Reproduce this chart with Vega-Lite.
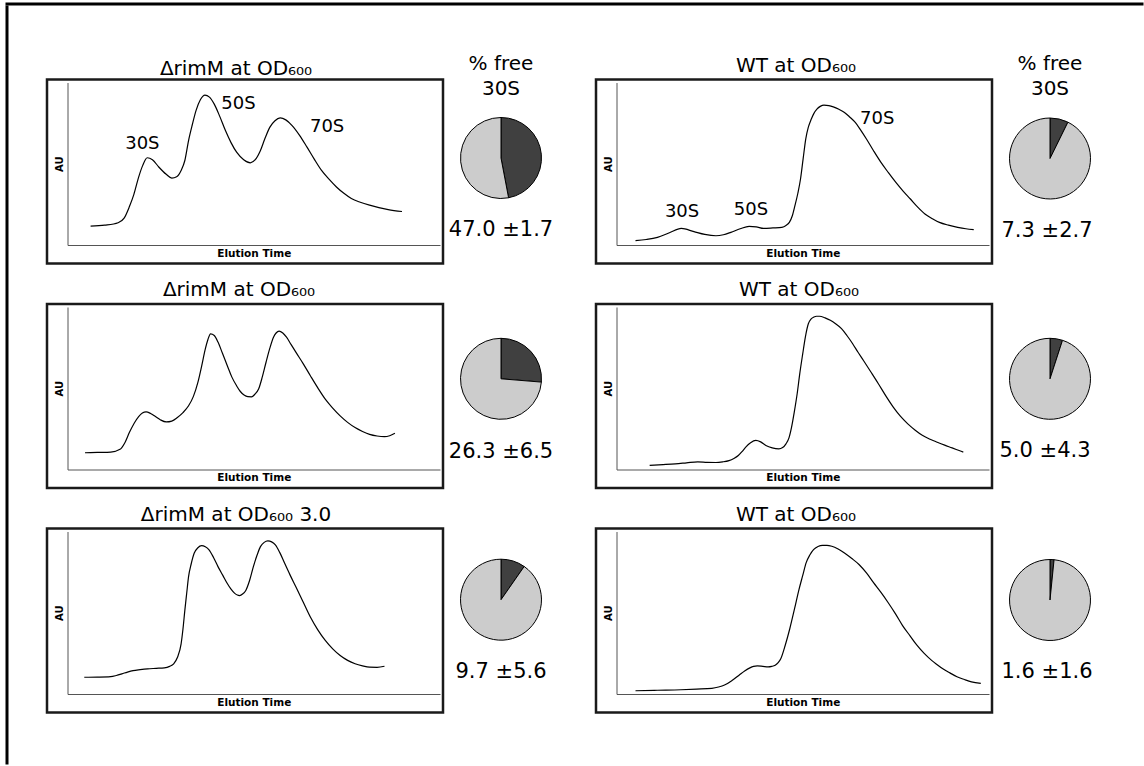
{
  "$schema": "https://vega.github.io/schema/vega-lite/v6.json",
  "background": "white",
  "padding": {"left": 5.5, "top": 2.5, "right": 0, "bottom": 0},
  "autosize": {"type": "pad"},
  "config": {
    "view": {"stroke": null},
    "font": "DejaVu Sans",
    "title": {"font": "DejaVu Sans", "fontSize": 20, "fontWeight": "normal", "color": "black", "anchor": "middle", "frame": "group"},
    "axis": {"ticks": false, "labels": false, "grid": false, "domainColor": "#555", "domainWidth": 1, "titleFont": "DejaVu Sans", "titleFontWeight": "bold", "titleColor": "black"},
    "axisX": {"offset": -18.5, "titlePadding": 3, "titleFontSize": 10.5},
    "axisY": {"offset": -20.5, "titlePadding": 3, "titleFontSize": 10},
    "text": {"font": "DejaVu Sans", "fontSize": 18, "color": "black", "align": "center", "baseline": "middle"},
    "line": {"color": "black", "strokeWidth": 1.2, "interpolate": "monotone"},
    "arc": {"outerRadius": 40.5, "stroke": "black", "strokeWidth": 1}
  },
  "datasets": {
    "traces": [
      {"p":"A","t":6.2,"au":11.6},{"p":"A","t":10,"au":12.2},{"p":"A","t":13.6,"au":13.7},{"p":"A","t":15.2,"au":16.5},{"p":"A","t":16.6,"au":23.5},{"p":"A","t":17.8,"au":31},{"p":"A","t":19.1,"au":41.8},{"p":"A","t":20.2,"au":49},{"p":"A","t":21.4,"au":53.7},{"p":"A","t":22.8,"au":52.5},{"p":"A","t":24.5,"au":48},{"p":"A","t":26.5,"au":43.5},{"p":"A","t":28,"au":41.2},{"p":"A","t":29.3,"au":42},{"p":"A","t":30.5,"au":45.9},{"p":"A","t":31.5,"au":52},{"p":"A","t":32.5,"au":64.3},{"p":"A","t":33.5,"au":74},{"p":"A","t":34.5,"au":82.7},{"p":"A","t":35.7,"au":89.5},{"p":"A","t":36.9,"au":92.2},{"p":"A","t":38.1,"au":91},{"p":"A","t":39.4,"au":86.7},{"p":"A","t":40.9,"au":79},{"p":"A","t":42.4,"au":70.4},{"p":"A","t":43.9,"au":63},{"p":"A","t":45.4,"au":57.1},{"p":"A","t":47.3,"au":52.5},{"p":"A","t":49.1,"au":50.6},{"p":"A","t":50.4,"au":52.5},{"p":"A","t":51.8,"au":58.2},{"p":"A","t":53,"au":65.5},{"p":"A","t":54.3,"au":72.4},{"p":"A","t":55.7,"au":76.5},{"p":"A","t":57.1,"au":78.2},{"p":"A","t":58.6,"au":77},{"p":"A","t":60.3,"au":73.5},{"p":"A","t":62.3,"au":67.5},{"p":"A","t":64.3,"au":60.2},{"p":"A","t":66.2,"au":53},{"p":"A","t":68.2,"au":45.9},{"p":"A","t":70.2,"au":40.5},{"p":"A","t":72.2,"au":35.7},{"p":"A","t":74.2,"au":31.8},{"p":"A","t":76.2,"au":28.6},{"p":"A","t":78.6,"au":26.3},{"p":"A","t":81.1,"au":24.5},{"p":"A","t":83.6,"au":23},{"p":"A","t":86.1,"au":21.8},{"p":"A","t":89.8,"au":20.6},
      {"p":"B","t":5.1,"au":2.7},{"p":"B","t":8,"au":3.4},{"p":"B","t":11,"au":4.7},{"p":"B","t":14.2,"au":7.5},{"p":"B","t":17.4,"au":10.2},{"p":"B","t":20.8,"au":8.2},{"p":"B","t":23.7,"au":6.5},{"p":"B","t":26.7,"au":5.7},{"p":"B","t":28.7,"au":6.3},{"p":"B","t":30.7,"au":7.8},{"p":"B","t":33.2,"au":10},{"p":"B","t":35.6,"au":11.5},{"p":"B","t":37.5,"au":11.2},{"p":"B","t":39.5,"au":10.2},{"p":"B","t":42,"au":10.5},{"p":"B","t":44.4,"au":10.9},{"p":"B","t":45.5,"au":12},{"p":"B","t":46.4,"au":13.9},{"p":"B","t":47.2,"au":18},{"p":"B","t":47.9,"au":24.2},{"p":"B","t":48.7,"au":32},{"p":"B","t":49.4,"au":40.6},{"p":"B","t":50.1,"au":53},{"p":"B","t":50.8,"au":65.2},{"p":"B","t":51.5,"au":72.5},{"p":"B","t":52.3,"au":77.5},{"p":"B","t":53,"au":81},{"p":"B","t":53.8,"au":83.6},{"p":"B","t":54.7,"au":85.3},{"p":"B","t":55.7,"au":86.1},{"p":"B","t":57,"au":85.8},{"p":"B","t":58.2,"au":85},{"p":"B","t":59.7,"au":83.5},{"p":"B","t":61.2,"au":81.6},{"p":"B","t":62.6,"au":78.8},{"p":"B","t":64.1,"au":75.4},{"p":"B","t":65.6,"au":70.5},{"p":"B","t":67.1,"au":65.2},{"p":"B","t":69,"au":58},{"p":"B","t":71,"au":50.8},{"p":"B","t":73,"au":44.5},{"p":"B","t":75,"au":38.5},{"p":"B","t":77,"au":33},{"p":"B","t":78.9,"au":28.3},{"p":"B","t":80.8,"au":23.5},{"p":"B","t":82.8,"au":19.1},{"p":"B","t":84.8,"au":16.2},{"p":"B","t":86.7,"au":13.9},{"p":"B","t":89.1,"au":12.2},{"p":"B","t":91.6,"au":10.9},{"p":"B","t":93.8,"au":10},{"p":"B","t":95.9,"au":9.4},
      {"p":"C","t":4.7,"au":10.3},{"p":"C","t":8,"au":10.5},{"p":"C","t":11.6,"au":10.7},{"p":"C","t":14.1,"au":12.4},{"p":"C","t":15.4,"au":16.5},{"p":"C","t":16.6,"au":22.7},{"p":"C","t":17.9,"au":28.5},{"p":"C","t":19.1,"au":32.6},{"p":"C","t":20.1,"au":34.8},{"p":"C","t":21.1,"au":35.5},{"p":"C","t":22.3,"au":34.5},{"p":"C","t":23.6,"au":32.6},{"p":"C","t":25,"au":30.5},{"p":"C","t":26.5,"au":29.3},{"p":"C","t":28,"au":29.8},{"p":"C","t":29.5,"au":32},{"p":"C","t":31,"au":35},{"p":"C","t":32.5,"au":39.2},{"p":"C","t":33.8,"au":45},{"p":"C","t":35,"au":53.6},{"p":"C","t":36,"au":63.5},{"p":"C","t":37,"au":74.2},{"p":"C","t":37.7,"au":80},{"p":"C","t":38.4,"au":83.5},{"p":"C","t":39.4,"au":82.5},{"p":"C","t":40.4,"au":78.4},{"p":"C","t":41.6,"au":71.5},{"p":"C","t":42.9,"au":63.9},{"p":"C","t":44.1,"au":57},{"p":"C","t":45.4,"au":51.5},{"p":"C","t":46.4,"au":48},{"p":"C","t":47.4,"au":45.8},{"p":"C","t":48.4,"au":44.8},{"p":"C","t":49.4,"au":44.7},{"p":"C","t":50.3,"au":46.3},{"p":"C","t":51.3,"au":49.5},{"p":"C","t":52.3,"au":57},{"p":"C","t":53.3,"au":66},{"p":"C","t":54.3,"au":74.5},{"p":"C","t":55.3,"au":81.4},{"p":"C","t":56,"au":84},{"p":"C","t":56.8,"au":85.2},{"p":"C","t":57.8,"au":84},{"p":"C","t":58.8,"au":81.4},{"p":"C","t":60,"au":77},{"p":"C","t":61.3,"au":72.2},{"p":"C","t":63.3,"au":65},{"p":"C","t":65.2,"au":57.7},{"p":"C","t":67.2,"au":50.2},{"p":"C","t":69.2,"au":43.3},{"p":"C","t":71.2,"au":37.8},{"p":"C","t":73.2,"au":33},{"p":"C","t":75.2,"au":29},{"p":"C","t":77.2,"au":25.8},{"p":"C","t":79.2,"au":23.4},{"p":"C","t":81.1,"au":21.6},{"p":"C","t":83.1,"au":20.6},{"p":"C","t":85.1,"au":20.2},{"p":"C","t":86.5,"au":20.8},{"p":"C","t":87.9,"au":22.3},
      {"p":"D","t":8.9,"au":2.5},{"p":"D","t":12.5,"au":3},{"p":"D","t":15.8,"au":3.5},{"p":"D","t":18.8,"au":4.1},{"p":"D","t":21.8,"au":4.7},{"p":"D","t":24.3,"au":4.4},{"p":"D","t":26.7,"au":4.3},{"p":"D","t":28.5,"au":4.7},{"p":"D","t":30.2,"au":5.5},{"p":"D","t":31.5,"au":6.8},{"p":"D","t":32.7,"au":8.6},{"p":"D","t":33.7,"au":11},{"p":"D","t":34.7,"au":13.8},{"p":"D","t":36,"au":16.5},{"p":"D","t":37.4,"au":17.9},{"p":"D","t":38.7,"au":17},{"p":"D","t":40.1,"au":14.8},{"p":"D","t":41.8,"au":13.3},{"p":"D","t":43.6,"au":12.7},{"p":"D","t":44.6,"au":13.5},{"p":"D","t":45.5,"au":15.8},{"p":"D","t":46.3,"au":19.5},{"p":"D","t":47,"au":26.1},{"p":"D","t":47.7,"au":35},{"p":"D","t":48.5,"au":46.6},{"p":"D","t":49.2,"au":59},{"p":"D","t":50,"au":71.3},{"p":"D","t":50.7,"au":81.5},{"p":"D","t":51.5,"au":89.7},{"p":"D","t":52.2,"au":92.5},{"p":"D","t":53,"au":93.8},{"p":"D","t":53.7,"au":94.3},{"p":"D","t":54.5,"au":94.3},{"p":"D","t":56,"au":93.3},{"p":"D","t":57.4,"au":91.8},{"p":"D","t":58.9,"au":89.5},{"p":"D","t":60.4,"au":86.7},{"p":"D","t":61.9,"au":82.3},{"p":"D","t":63.4,"au":77.4},{"p":"D","t":64.8,"au":72.3},{"p":"D","t":66.3,"au":67.1},{"p":"D","t":68.3,"au":60},{"p":"D","t":70.3,"au":52.8},{"p":"D","t":72.3,"au":45.3},{"p":"D","t":74.3,"au":38.4},{"p":"D","t":76.2,"au":32.8},{"p":"D","t":78.2,"au":28.1},{"p":"D","t":80.2,"au":24.2},{"p":"D","t":82.2,"au":20.9},{"p":"D","t":84.2,"au":18.6},{"p":"D","t":86.1,"au":16.8},{"p":"D","t":88.1,"au":15},{"p":"D","t":90.1,"au":13.3},{"p":"D","t":91.6,"au":12},{"p":"D","t":93.1,"au":10.7},
      {"p":"E","t":4.5,"au":10.3},{"p":"E","t":8,"au":10.4},{"p":"E","t":11.6,"au":10.7},{"p":"E","t":13.1,"au":11.4},{"p":"E","t":14.6,"au":12.4},{"p":"E","t":16.1,"au":13.5},{"p":"E","t":17.6,"au":14.4},{"p":"E","t":19.5,"au":15},{"p":"E","t":21.5,"au":15.5},{"p":"E","t":23.8,"au":15.8},{"p":"E","t":26,"au":16.1},{"p":"E","t":27.4,"au":17},{"p":"E","t":28.5,"au":18.6},{"p":"E","t":29.5,"au":22.5},{"p":"E","t":30.5,"au":30.9},{"p":"E","t":31,"au":40},{"p":"E","t":31.5,"au":51.5},{"p":"E","t":32,"au":62},{"p":"E","t":32.5,"au":72.2},{"p":"E","t":33.2,"au":80},{"p":"E","t":34,"au":86.6},{"p":"E","t":35,"au":90},{"p":"E","t":36,"au":91.3},{"p":"E","t":37,"au":90.6},{"p":"E","t":38,"au":88.7},{"p":"E","t":39.2,"au":84},{"p":"E","t":40.4,"au":78.4},{"p":"E","t":41.7,"au":73},{"p":"E","t":42.9,"au":68},{"p":"E","t":43.9,"au":64.5},{"p":"E","t":44.9,"au":61.9},{"p":"E","t":45.6,"au":60.9},{"p":"E","t":46.2,"au":60.6},{"p":"E","t":47,"au":61.5},{"p":"E","t":47.9,"au":63.9},{"p":"E","t":48.9,"au":70},{"p":"E","t":49.9,"au":78.4},{"p":"E","t":50.9,"au":85.5},{"p":"E","t":51.8,"au":90.7},{"p":"E","t":52.8,"au":93.3},{"p":"E","t":53.8,"au":94.2},{"p":"E","t":54.8,"au":93.6},{"p":"E","t":55.8,"au":91.8},{"p":"E","t":57,"au":87},{"p":"E","t":58.3,"au":80.4},{"p":"E","t":59.8,"au":73},{"p":"E","t":61.3,"au":66},{"p":"E","t":63.3,"au":56.5},{"p":"E","t":65.2,"au":47.4},{"p":"E","t":67.2,"au":39.5},{"p":"E","t":69.2,"au":33},{"p":"E","t":71.2,"au":27.8},{"p":"E","t":73.2,"au":23.7},{"p":"E","t":75.2,"au":20.7},{"p":"E","t":77.2,"au":18.6},{"p":"E","t":79.2,"au":17.3},{"p":"E","t":81.1,"au":16.5},{"p":"E","t":83.1,"au":16.4},{"p":"E","t":85.1,"au":17.1},
      {"p":"F","t":5.1,"au":2},{"p":"F","t":11,"au":2.3},{"p":"F","t":17.3,"au":2.6},{"p":"F","t":21.5,"au":3},{"p":"F","t":25.6,"au":3.5},{"p":"F","t":27.4,"au":4.3},{"p":"F","t":29,"au":5.5},{"p":"F","t":31,"au":8.3},{"p":"F","t":32.9,"au":11.6},{"p":"F","t":34.4,"au":14.2},{"p":"F","t":35.8,"au":16.1},{"p":"F","t":36.8,"au":17},{"p":"F","t":37.8,"au":17.3},{"p":"F","t":39.3,"au":17},{"p":"F","t":40.7,"au":16.7},{"p":"F","t":41.7,"au":17},{"p":"F","t":42.6,"au":17.7},{"p":"F","t":43.4,"au":19.3},{"p":"F","t":44.1,"au":21.7},{"p":"F","t":45.3,"au":30},{"p":"F","t":46.5,"au":40},{"p":"F","t":47.8,"au":52.5},{"p":"F","t":49,"au":64.4},{"p":"F","t":50,"au":73},{"p":"F","t":50.9,"au":80.7},{"p":"F","t":51.9,"au":85.5},{"p":"F","t":52.9,"au":88.8},{"p":"F","t":54.1,"au":90.8},{"p":"F","t":55.3,"au":91.5},{"p":"F","t":56.5,"au":91.5},{"p":"F","t":57.8,"au":90.9},{"p":"F","t":59.5,"au":89.2},{"p":"F","t":61.2,"au":86.8},{"p":"F","t":63.1,"au":83.5},{"p":"F","t":65.1,"au":79.7},{"p":"F","t":67.1,"au":74.5},{"p":"F","t":69,"au":68.5},{"p":"F","t":71,"au":62.5},{"p":"F","t":72.9,"au":56.3},{"p":"F","t":74.9,"au":49.3},{"p":"F","t":76.8,"au":42.1},{"p":"F","t":78.8,"au":35.8},{"p":"F","t":80.7,"au":29.9},{"p":"F","t":82.6,"au":25},{"p":"F","t":84.6,"au":20.7},{"p":"F","t":86,"au":18.2},{"p":"F","t":87.5,"au":15.7},{"p":"F","t":89.5,"au":13},{"p":"F","t":91.4,"au":10.6},{"p":"F","t":93.4,"au":8.9},{"p":"F","t":95.3,"au":7.5},{"p":"F","t":97.8,"au":6.5}
    ],
    "labels": [
      {"p":"A","t":20.1,"au":62.2,"label":"30S"},{"p":"A","t":45.9,"au":86.7,"label":"50S"},{"p":"A","t":69.7,"au":72.4,"label":"70S"},
      {"p":"B","t":17.6,"au":20.5,"label":"30S"},{"p":"B","t":36.1,"au":21.7,"label":"50S"},{"p":"B","t":70,"au":77.5,"label":"70S"}
    ],
    "pies": [
      {"p":"A","part":"free","pct":47.0},{"p":"A","part":"other","pct":53.0},
      {"p":"B","part":"free","pct":7.3},{"p":"B","part":"other","pct":92.7},
      {"p":"C","part":"free","pct":26.3},{"p":"C","part":"other","pct":73.7},
      {"p":"D","part":"free","pct":5.0},{"p":"D","part":"other","pct":95.0},
      {"p":"E","part":"free","pct":9.7},{"p":"E","part":"other","pct":90.3},
      {"p":"F","part":"free","pct":1.6},{"p":"F","part":"other","pct":98.4}
    ],
    "captions": [
      {"p":"A","label":"47.0 ±1.7"},{"p":"B","label":"7.3 ±2.7"},{"p":"C","label":"26.3 ±6.5"},
      {"p":"D","label":"5.0 ±4.3"},{"p":"E","label":"9.7 ±5.6"},{"p":"F","label":"1.6 ±1.6"}
    ]
  },
  "spacing": 0,
  "vconcat": [
    {"width": 1136, "height": 1, "view": {"stroke": "black", "strokeWidth": 2, "fill": "black"}, "data": {"values": []}, "mark": "rule", "encoding": {}},
    {
      "spacing": 36.5,
      "hconcat": [
        {"width": 1, "height": 757, "view": {"stroke": "black", "strokeWidth": 2, "fill": "black"}, "data": {"values": []}, "mark": "rule", "encoding": {}},
        {
          "spacing": 0,
          "vconcat": [
            {"width": 1, "height": 46.8, "view": {"fill": "white"}, "data": {"values": []}, "mark": "rule", "encoding": {}},
            {
              "columns": 5,
              "align": "each",
              "bounds": "flush",
              "spacing": {"row": 40.5, "column": 10},
              "concat": [
                {"width": 396, "height": 184, "view": {"stroke": "#1a1a1a", "strokeWidth": 2.5, "fill": "white"},
                 "title": {"text": "ΔrimM at OD₆₀₀", "dx": -9, "baseline": "alphabetic", "offset": -15},
                 "layer": [
                   {"data": {"name": "traces"}, "transform": [{"filter": "datum.p === 'A'"}], "mark": "line",
                    "encoding": {"x": {"field": "t", "type": "quantitative", "scale": {"domain": [0, 100], "range": [20.5, 393]}, "axis": {"title": "Elution Time"}},
                                 "y": {"field": "au", "type": "quantitative", "scale": {"domain": [0, 100], "range": [165.5, 3]}, "axis": {"title": "AU"}}}},
                   {"data": {"name": "labels"}, "transform": [{"filter": "datum.p === 'A'"}], "mark": "text",
                    "encoding": {"x": {"field": "t", "type": "quantitative"}, "y": {"field": "au", "type": "quantitative"}, "text": {"field": "label"}}}
                 ]},
                {"width": 96, "height": 157,
                 "title": {"text": ["% free", "30S"], "baseline": "middle", "offset": -29.5, "lineHeight": 24.7},
                 "layer": [
                   {"data": {"name": "pies"}, "transform": [{"filter": "datum.p === 'A'"}], "mark": "arc",
                    "encoding": {"theta": {"field": "pct", "type": "quantitative", "stack": true},
                                 "order": {"field": "part", "type": "ordinal", "sort": "ascending"},
                                 "color": {"field": "part", "type": "nominal", "scale": {"domain": ["free", "other"], "range": ["#404040", "#cccccc"]}, "legend": null}}},
                   {"data": {"name": "captions"}, "transform": [{"filter": "datum.p === 'A'"}], "mark": {"type": "text", "fontSize": 21, "dy": 72},
                    "encoding": {"text": {"field": "label"}}}
                 ]},
                {"width": 26.7, "height": 1, "data": {"values": []}, "mark": "rule", "encoding": {}},
                {"width": 396, "height": 184, "view": {"stroke": "#1a1a1a", "strokeWidth": 2.5, "fill": "white"},
                 "title": {"text": "WT at OD₆₀₀", "dx": 2, "baseline": "alphabetic", "offset": -12},
                 "layer": [
                   {"data": {"name": "traces"}, "transform": [{"filter": "datum.p === 'B'"}], "mark": "line",
                    "encoding": {"x": {"field": "t", "type": "quantitative", "scale": {"domain": [0, 100], "range": [20.5, 393]}, "axis": {"title": "Elution Time"}},
                                 "y": {"field": "au", "type": "quantitative", "scale": {"domain": [0, 100], "range": [165.5, 3]}, "axis": {"title": "AU"}}}},
                   {"data": {"name": "labels"}, "transform": [{"filter": "datum.p === 'B'"}], "mark": "text",
                    "encoding": {"x": {"field": "t", "type": "quantitative"}, "y": {"field": "au", "type": "quantitative"}, "text": {"field": "label"}}}
                 ]},
                {"width": 96, "height": 158,
                 "title": {"text": ["% free", "30S"], "baseline": "middle", "offset": -29.5, "lineHeight": 24.7},
                 "layer": [
                   {"data": {"name": "pies"}, "transform": [{"filter": "datum.p === 'B'"}], "mark": "arc",
                    "encoding": {"theta": {"field": "pct", "type": "quantitative", "stack": true},
                                 "order": {"field": "part", "type": "ordinal", "sort": "ascending"},
                                 "color": {"field": "part", "type": "nominal", "scale": {"domain": ["free", "other"], "range": ["#404040", "#cccccc"]}, "legend": null}}},
                   {"data": {"name": "captions"}, "transform": [{"filter": "datum.p === 'B'"}], "mark": {"type": "text", "fontSize": 21, "dy": 72, "dx": -3},
                    "encoding": {"text": {"field": "label"}}}
                 ]},

                {"width": 396, "height": 184, "view": {"stroke": "#1a1a1a", "strokeWidth": 2.5, "fill": "white"},
                 "title": {"text": "ΔrimM at OD₆₀₀", "dx": -6, "baseline": "alphabetic", "offset": -12},
                 "layer": [
                   {"data": {"name": "traces"}, "transform": [{"filter": "datum.p === 'C'"}], "mark": "line",
                    "encoding": {"x": {"field": "t", "type": "quantitative", "scale": {"domain": [0, 100], "range": [20.5, 393]}, "axis": {"title": "Elution Time"}},
                                 "y": {"field": "au", "type": "quantitative", "scale": {"domain": [0, 100], "range": [165.5, 3]}, "axis": {"title": "AU"}}}}
                 ]},
                {"width": 96, "height": 149.6,
                 "layer": [
                   {"data": {"name": "pies"}, "transform": [{"filter": "datum.p === 'C'"}], "mark": "arc",
                    "encoding": {"theta": {"field": "pct", "type": "quantitative", "stack": true},
                                 "order": {"field": "part", "type": "ordinal", "sort": "ascending"},
                                 "color": {"field": "part", "type": "nominal", "scale": {"domain": ["free", "other"], "range": ["#404040", "#cccccc"]}, "legend": null}}},
                   {"data": {"name": "captions"}, "transform": [{"filter": "datum.p === 'C'"}], "mark": {"type": "text", "fontSize": 21, "dy": 73},
                    "encoding": {"text": {"field": "label"}}}
                 ]},
                {"width": 26.7, "height": 1, "data": {"values": []}, "mark": "rule", "encoding": {}},
                {"width": 396, "height": 184, "view": {"stroke": "#1a1a1a", "strokeWidth": 2.5, "fill": "white"},
                 "title": {"text": "WT at OD₆₀₀", "dx": 5, "baseline": "alphabetic", "offset": -12},
                 "layer": [
                   {"data": {"name": "traces"}, "transform": [{"filter": "datum.p === 'D'"}], "mark": "line",
                    "encoding": {"x": {"field": "t", "type": "quantitative", "scale": {"domain": [0, 100], "range": [20.5, 393]}, "axis": {"title": "Elution Time"}},
                                 "y": {"field": "au", "type": "quantitative", "scale": {"domain": [0, 100], "range": [165.5, 3]}, "axis": {"title": "AU"}}}}
                 ]},
                {"width": 96, "height": 149.6,
                 "layer": [
                   {"data": {"name": "pies"}, "transform": [{"filter": "datum.p === 'D'"}], "mark": "arc",
                    "encoding": {"theta": {"field": "pct", "type": "quantitative", "stack": true},
                                 "order": {"field": "part", "type": "ordinal", "sort": "ascending"},
                                 "color": {"field": "part", "type": "nominal", "scale": {"domain": ["free", "other"], "range": ["#404040", "#cccccc"]}, "legend": null}}},
                   {"data": {"name": "captions"}, "transform": [{"filter": "datum.p === 'D'"}], "mark": {"type": "text", "fontSize": 21, "dy": 72, "dx": -5},
                    "encoding": {"text": {"field": "label"}}}
                 ]},

                {"width": 396, "height": 184, "view": {"stroke": "#1a1a1a", "strokeWidth": 2.5, "fill": "white"},
                 "title": {"text": "ΔrimM at OD₆₀₀ 3.0", "dx": -9, "baseline": "alphabetic", "offset": -12},
                 "layer": [
                   {"data": {"name": "traces"}, "transform": [{"filter": "datum.p === 'E'"}], "mark": "line",
                    "encoding": {"x": {"field": "t", "type": "quantitative", "scale": {"domain": [0, 100], "range": [20.5, 393]}, "axis": {"title": "Elution Time"}},
                                 "y": {"field": "au", "type": "quantitative", "scale": {"domain": [0, 100], "range": [165.5, 3]}, "axis": {"title": "AU"}}}}
                 ]},
                {"width": 96, "height": 142.4,
                 "layer": [
                   {"data": {"name": "pies"}, "transform": [{"filter": "datum.p === 'E'"}], "mark": "arc",
                    "encoding": {"theta": {"field": "pct", "type": "quantitative", "stack": true},
                                 "order": {"field": "part", "type": "ordinal", "sort": "ascending"},
                                 "color": {"field": "part", "type": "nominal", "scale": {"domain": ["free", "other"], "range": ["#404040", "#cccccc"]}, "legend": null}}},
                   {"data": {"name": "captions"}, "transform": [{"filter": "datum.p === 'E'"}], "mark": {"type": "text", "fontSize": 21, "dy": 72.5},
                    "encoding": {"text": {"field": "label"}}}
                 ]},
                {"width": 26.7, "height": 1, "data": {"values": []}, "mark": "rule", "encoding": {}},
                {"width": 396, "height": 184, "view": {"stroke": "#1a1a1a", "strokeWidth": 2.5, "fill": "white"},
                 "title": {"text": "WT at OD₆₀₀", "dx": 2, "baseline": "alphabetic", "offset": -12},
                 "layer": [
                   {"data": {"name": "traces"}, "transform": [{"filter": "datum.p === 'F'"}], "mark": "line",
                    "encoding": {"x": {"field": "t", "type": "quantitative", "scale": {"domain": [0, 100], "range": [20.5, 393]}, "axis": {"title": "Elution Time"}},
                                 "y": {"field": "au", "type": "quantitative", "scale": {"domain": [0, 100], "range": [165.5, 3]}, "axis": {"title": "AU"}}}}
                 ]},
                {"width": 96, "height": 143,
                 "layer": [
                   {"data": {"name": "pies"}, "transform": [{"filter": "datum.p === 'F'"}], "mark": "arc",
                    "encoding": {"theta": {"field": "pct", "type": "quantitative", "stack": true},
                                 "order": {"field": "part", "type": "ordinal", "sort": "ascending"},
                                 "color": {"field": "part", "type": "nominal", "scale": {"domain": ["free", "other"], "range": ["#404040", "#cccccc"]}, "legend": null}}},
                   {"data": {"name": "captions"}, "transform": [{"filter": "datum.p === 'F'"}], "mark": {"type": "text", "fontSize": 21, "dy": 72, "dx": -3},
                    "encoding": {"text": {"field": "label"}}}
                 ]}
              ]
            }
          ]
        }
      ]
    }
  ]
}
